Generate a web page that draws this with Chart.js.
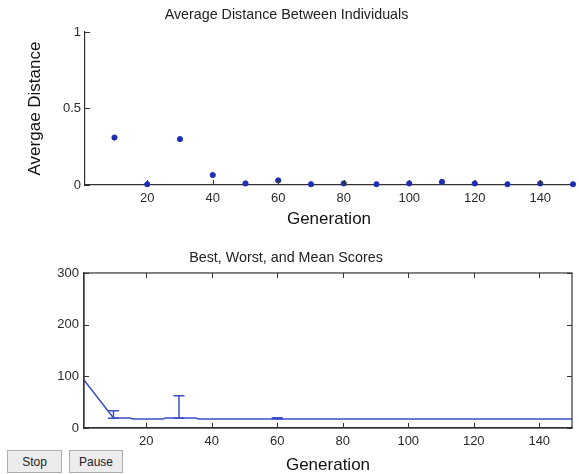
<!DOCTYPE html>
<html>
<head>
<meta charset="utf-8">
<script src="https://cdn.jsdelivr.net/npm/chart.js@4.4.1/dist/chart.umd.min.js"></script>
<style>
  html, body { margin: 0; padding: 0; background: #fff; }
  body { width: 579px; height: 474px; position: relative; overflow: hidden; font-family: "Liberation Sans", Arial, sans-serif; }
  .box { position: absolute; left: 0; width: 579px; }
  #b1 { top: 0; height: 232px; }
  #b2 { top: 232px; height: 242px; }
  .btn { position: absolute; top: 450px; height: 23px; box-sizing: border-box; background: #ececec; border: 1px solid #adadad;
         font: 12px "Liberation Sans", Arial, sans-serif; color: #222; display: flex; align-items: center; justify-content: center; }
</style>
</head>
<body>
<div class="box" id="b1"><canvas id="c1"></canvas></div>
<div class="box" id="b2"><canvas id="c2"></canvas></div>
<div class="btn" style="left:7px;width:55px;">Stop</div>
<div class="btn" style="left:69px;width:54px;">Pause</div>
<script>
// ---- data ----
const generations = [10, 20, 30, 40, 50, 60, 70, 80, 90, 100, 110, 120, 130, 140, 150];
const avgDistance = [0.31, 0.005, 0.30, 0.065, 0.01, 0.03, 0.005, 0.01, 0.005, 0.01, 0.02, 0.01, 0.005, 0.01, 0.005];

const meanGen   = [1, 10, 15, 16, 25, 26, 35, 36, 59, 61, 150];
const meanScore = [93, 19.5, 19.5, 17.5, 17.5, 19.5, 19.5, 17.5, 17.5, 17.5, 17.5];

const errGen  = [10, 30, 60];
const errLow  = [19, 19, 18];
const errHigh = [33.5, 62.5, 20];

const xTicks = [20, 40, 60, 80, 100, 120, 140];
const yTicksTop = [0, 0.5, 1];
const yTicksBottom = [0, 100, 200, 300];

const FONT = '"Liberation Sans", Arial, sans-serif';
const AXIS = '#333333';
const TXT = '#2a2a2a';

// inward tick marks + optional full box
const inwardTicks = {
  id: 'inwardTicks',
  afterDraw(chart, args, opts) {
    const ctx = chart.ctx, a = chart.chartArea;
    const xs = chart.scales.x, ys = chart.scales.y;
    ctx.save();
    ctx.strokeStyle = AXIS;
    ctx.lineWidth = 1;
    ctx.beginPath();
    xs.ticks.forEach(t => {
      const px = Math.round(xs.getPixelForValue(t.value)) + 0.5;
      ctx.moveTo(px, a.bottom); ctx.lineTo(px, a.bottom - 5);
      if (opts.box) { ctx.moveTo(px, a.top); ctx.lineTo(px, a.top + 5); }
    });
    ys.ticks.forEach(t => {
      const py = Math.round(ys.getPixelForValue(t.value)) + 0.5;
      ctx.moveTo(a.left, py); ctx.lineTo(a.left + 5, py);
      if (opts.box) { ctx.moveTo(a.right, py); ctx.lineTo(a.right - 5, py); }
    });
    ctx.stroke();
    if (opts.box) {
      ctx.lineWidth = 1.2;
      ctx.strokeRect(a.left, a.top, a.right - a.left, a.bottom - a.top);
    }
    ctx.restore();
  }
};

// error bars drawn through the chart's scales
const errorBars = {
  id: 'errorBars',
  afterDatasetsDraw(chart) {
    const ctx = chart.ctx, xs = chart.scales.x, ys = chart.scales.y;
    ctx.save();
    ctx.strokeStyle = '#3b4fc4';
    ctx.lineWidth = 1.5;
    ctx.beginPath();
    errGen.forEach((g, i) => {
      const px = xs.getPixelForValue(g);
      const lo = ys.getPixelForValue(errLow[i]);
      const hi = ys.getPixelForValue(errHigh[i]);
      ctx.moveTo(px, lo); ctx.lineTo(px, hi);
      ctx.moveTo(px - 5.5, lo); ctx.lineTo(px + 5.5, lo);
      ctx.moveTo(px - 5.5, hi); ctx.lineTo(px + 5.5, hi);
    });
    ctx.stroke();
    ctx.restore();
  }
};

function xScale(height, titlePadBottom) {
  return {
    type: 'linear', min: 1, max: 150,
    afterBuildTicks: s => { s.ticks = xTicks.map(v => ({ value: v })); },
    afterFit: s => { s.height = height; },
    grid: { display: false, drawTicks: false },
    border: { display: true, color: AXIS, width: 1.2 },
    ticks: { color: TXT, font: { family: FONT, size: 13 }, padding: 6, maxRotation: 0, callback: v => String(v) },
    title: { display: true, text: 'Generation', color: '#111', font: { family: FONT, size: 17 }, padding: { top: 0, bottom: titlePadBottom } }
  };
}

new Chart(document.getElementById('c1'), {
  type: 'scatter',
  data: {
    datasets: [{
      data: generations.map((g, i) => ({ x: g, y: avgDistance[i] })),
      backgroundColor: '#1e2fb5', borderColor: '#1e2fb5',
      pointRadius: 2.6, pointStyle: 'circle', clip: false
    }]
  },
  plugins: [inwardTicks],
  options: {
    responsive: true, maintainAspectRatio: false, animation: false,
    layout: { padding: { left: 0, right: 6, top: 0, bottom: 0 } },
    plugins: {
      legend: { display: false }, tooltip: { enabled: false },
      title: { display: true, text: 'Average Distance Between Individuals', color: '#222',
               font: { family: FONT, size: 14.3, weight: 'normal' }, padding: { top: 6.4, bottom: 8.4 } },
      inwardTicks: { box: false }
    },
    scales: {
      x: xScale(47, 2),
      y: {
        type: 'linear', min: 0, max: 1,
        afterBuildTicks: s => { s.ticks = yTicksTop.map(v => ({ value: v })); },
        afterFit: s => { s.width = 85; },
        grid: { display: false, drawTicks: false },
        border: { display: true, color: AXIS, width: 1.2 },
        ticks: { color: TXT, font: { family: FONT, size: 13 }, padding: 4, callback: v => String(v) },
        title: { display: true, text: 'Avergae Distance', color: '#111', font: { family: FONT, size: 17 }, padding: { top: 24.8, bottom: 0 } }
      }
    }
  }
});

new Chart(document.getElementById('c2'), {
  type: 'line',
  data: {
    datasets: [{
      data: meanGen.map((g, i) => ({ x: g, y: meanScore[i] })),
      borderColor: '#3b4fc4', borderWidth: 1.5, pointRadius: 0, tension: 0, fill: false
    }]
  },
  plugins: [inwardTicks, errorBars],
  options: {
    responsive: true, maintainAspectRatio: false, animation: false,
    layout: { padding: { left: 0, right: 7, top: 0, bottom: 0 } },
    plugins: {
      legend: { display: false }, tooltip: { enabled: false },
      title: { display: true, text: 'Best, Worst, and Mean Scores', color: '#222',
               font: { family: FONT, size: 14.3, weight: 'normal' }, padding: { top: 17.4, bottom: 6.4 } },
      inwardTicks: { box: true }
    },
    scales: {
      x: xScale(46, -2),
      y: {
        type: 'linear', min: 0, max: 300,
        afterBuildTicks: s => { s.ticks = yTicksBottom.map(v => ({ value: v })); },
        afterFit: s => { s.width = 84; },
        grid: { display: false, drawTicks: false },
        border: { display: true, color: AXIS, width: 1.2 },
        ticks: { color: TXT, font: { family: FONT, size: 13 }, padding: 5, callback: v => String(v) }
      }
    }
  }
});
</script>
</body>
</html>
